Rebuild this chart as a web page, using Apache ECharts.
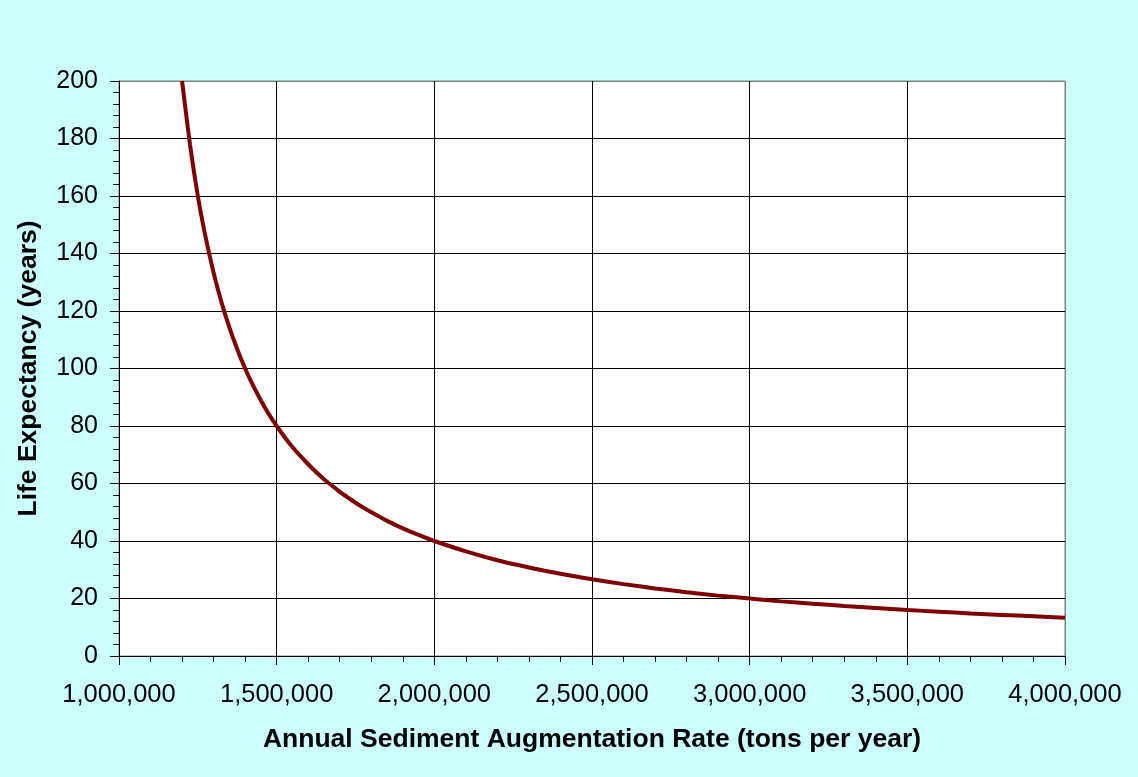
<!DOCTYPE html>
<html>
<head>
<meta charset="utf-8">
<script src="https://cdn.jsdelivr.net/npm/echarts@6/dist/echarts.min.js"></script>
<style>
html,body{margin:0;padding:0;background:#CCFFFF;}
#c{width:1138px;height:777px;}
</style>
</head>
<body>
<div id="c"></div>
<script>
// Annual sediment augmentation rate (tons per year)
var rates = [1200000,1225000,1250000,1275000,1300000,1325000,1350000,1375000,1400000,1425000,1450000,1475000,1500000,1525000,1550000,1575000,1600000,1625000,1650000,1675000,1700000,1725000,1750000,1775000,1800000,1850000,1900000,1950000,2000000,2100000,2200000,2300000,2400000,2500000,2600000,2700000,2800000,2900000,3000000,3100000,3200000,3300000,3400000,3500000,3600000,3700000,3800000,3900000,4000000];
// Life expectancy (years)
var lifeYears = [200,178,160,145.5,133.3,123,114.3,106.7,100,94.1,88.9,84.2,80,76.2,72.7,69.6,66.7,64,61.5,59.3,57.1,55.2,53.3,51.6,50,47,44.4,42.1,40,36.4,33.3,30.8,28.6,26.7,25,23.5,22.2,21,20,19,18.2,17.4,16.7,16,15.4,14.8,14.3,13.8,13.3];
var xTitle = 'Annual Sediment Augmentation Rate (tons per year)';
var yTitle = 'Life Expectancy (years)';

var pts = rates.map(function(r,i){return [r, lifeYears[i]];});
var font = '"Liberation Sans", Arial, sans-serif';
var ySplitColors = []; for (var i=0;i<10;i++) ySplitColors.push('#000'); ySplitColors.push('#808080');
var xSplitColors = ['#000','#000','#000','#000','#000','#000','#808080'];

var chart = echarts.init(document.getElementById('c'));
chart.setOption({
  backgroundColor:'#CCFFFF',
  animation:false,
  grid:{left:119,right:73,top:81,bottom:121,show:true,backgroundColor:'#fff',borderColor:'#808080',borderWidth:1},
  xAxis:{
    type:'value',min:1000000,max:4000000,interval:500000,
    name:xTitle,nameLocation:'middle',nameGap:70,
    nameTextStyle:{fontFamily:font,fontSize:26.5,fontWeight:'bold',color:'#000'},
    axisLine:{show:true,onZero:false,lineStyle:{color:'#000',width:1}},
    axisTick:{show:true,length:9,lineStyle:{color:'#000'}},
    minorTick:{show:true,splitNumber:5,length:6,lineStyle:{color:'#000'}},
    axisLabel:{fontFamily:font,fontSize:25.5,color:'#000',margin:26,
      formatter:function(v){return v.toString().replace(/\B(?=(\d{3})+(?!\d))/g, ',');}},
    splitLine:{show:true,lineStyle:{color:xSplitColors,width:1}}
  },
  yAxis:{
    type:'value',min:0,max:200,interval:20,
    name:yTitle,nameLocation:'middle',nameGap:77,nameRotate:90,
    nameTextStyle:{fontFamily:font,fontSize:26.5,fontWeight:'bold',color:'#000'},
    axisLine:{show:true,lineStyle:{color:'#000',width:1}},
    axisTick:{show:true,length:9,lineStyle:{color:'#000'}},
    minorTick:{show:true,splitNumber:5,length:6,lineStyle:{color:'#000'}},
    axisLabel:{fontFamily:font,fontSize:25,color:'#000',margin:21},
    splitLine:{show:true,lineStyle:{color:ySplitColors,width:1}}
  },
  series:[{
    type:'line',data:pts,smooth:0.25,showSymbol:false,
    lineStyle:{color:'#800000',width:4},
    clip:true
  }]
});
</script>
</body>
</html>
